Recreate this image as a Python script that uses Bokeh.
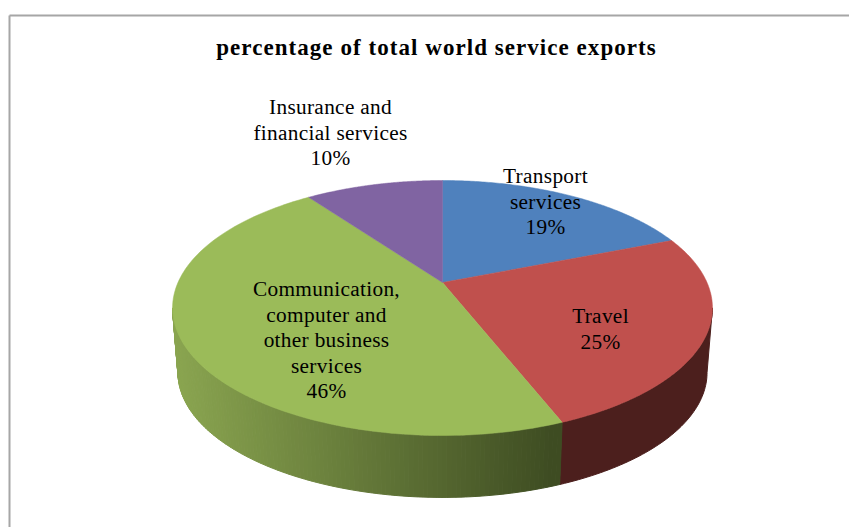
import numpy as np
from bokeh.core.properties import value
from bokeh.embed import file_html
from bokeh.layouts import column
from bokeh.models import InlineStyleSheet, Range1d
from bokeh.plotting import figure
from bokeh.resources import INLINE

# Share of world service exports, clockwise from twelve o'clock
categories = ["Transport services", "Travel",
              "Communication, computer and other business services",
              "Insurance and financial services"]
shares = [19, 25, 46, 10]
top_colors = ["#4f81bd", "#c0504d", "#9bbb59", "#8064a2"]
chart_title = "percentage of total world service exports"
SERIF = value("Liberation Serif")
FRAME = "#a6a6a6"
TITLE_H = 66
TITLE_TRACK = 1.05
LABEL_TRACK = 0.32

# Perspective projection of the pie disc onto the page
CX, CY, A, B, K = 442.0, 282.0, 264.5, 122.4, 0.2
WALL_DY, WALL_SCALE = 65.0, 0.98


def rim(theta_deg, scale=1.0, dy=0.0):
    t = np.radians(theta_deg)
    u, v = np.sin(t), np.cos(t)
    d = 1 + K * v
    return CX + scale * A * u / d, CY + dy - scale * B * v / d


def panel(height, top, bottom, spacing):
    fig = figure(width=849, height=height, output_backend="svg", toolbar_location=None,
                 x_range=Range1d(0, 849), y_range=Range1d(bottom, top),
                 min_border=0, outline_line_color=None,
                 background_fill_color=None, border_fill_color=None)
    fig.axis.visible = False
    fig.grid.visible = False
    fig.stylesheets = [InlineStyleSheet(css=":host { letter-spacing: %spx; }" % spacing)]
    return fig


# Tracking is added after the centred text is measured, so pull each string back by half of it
def tracked_x(x, text, track):
    return x - len(text) * track / 2


# Title layer, with its wider tracking
head = panel(TITLE_H, 0, TITLE_H, TITLE_TRACK)
head.text([tracked_x(436, chart_title, TITLE_TRACK)], [47], text=[chart_title], text_font=SERIF,
          text_font_size="23px", text_font_style="bold", text_align="center",
          text_baseline="middle", text_color="#000000")

# Chart layer covers the whole page and sits over the title layer
p = panel(527, 0, 527, LABEL_TRACK)
p.margin = (-TITLE_H, 0, 0, 0)
p.line([9, 9], [527, 15], line_color=FRAME, line_width=2)
p.line([9, 849], [15, 15], line_color=FRAME, line_width=2)

edges = np.concatenate([[0], np.cumsum(shares)]) * 3.6
FRONT_RIGHT, FRONT_LEFT = 101.5, 258.5


def wall_color(x):
    # Side wall shading runs from light on the left to dark on the right
    f = np.clip((x - 175) / (555 - 175), 0, 1)
    c0, c1 = np.array([138, 165, 80]), np.array([62, 76, 34])
    r, g, b = (c0 + (c1 - c0) * f).astype(int)
    return f"#{r:02x}{g:02x}{b:02x}"


# Dark wall below the travel slice
th = np.linspace(FRONT_RIGHT, edges[2], 60)
x1, y1 = rim(th)
x2, y2 = rim(th, WALL_SCALE, WALL_DY)
p.patch(np.r_[x1, x2[::-1]], np.r_[y1, y2[::-1]], fill_color="#4c1f1d", line_color="#4c1f1d", line_width=1)

# Shaded wall below the communication slice, drawn as narrow strips
th = np.linspace(edges[2], FRONT_LEFT, 121)
for a, b in zip(th[:-1], th[1:]):
    seg = np.array([a, b])
    x1, y1 = rim(seg)
    x2, y2 = rim(seg, WALL_SCALE, WALL_DY)
    col = wall_color(x1.mean())
    p.patch(np.r_[x1, x2[::-1]], np.r_[y1, y2[::-1]], fill_color=col, line_color=col, line_width=1)

# Top faces of the slices
for start, end, col in zip(edges[:-1], edges[1:], top_colors):
    th = np.linspace(start, end, 120)
    x, y = rim(th)
    p.patch(np.r_[CX, x], np.r_[CY, y], fill_color=col, line_color=col, line_width=0.5)

labels = [
    (545, ["Transport", "services", "19%"], 175.5),
    (600, ["Travel", "25%"], 315.5),
    (326, ["Communication,", "computer and", "other business", "services", "46%"], 288.5),
    (330, ["Insurance and", "financial services", "10%"], 106.5),
]
for lx, lines, ly in labels:
    xs = [tracked_x(lx, t, LABEL_TRACK) for t in lines]
    ys = [ly + 25.5 * i for i in range(len(lines))]
    p.text(xs, ys, text=lines, text_font=SERIF, text_font_size="21.3px",
           text_align="center", text_baseline="middle", text_color="#000000")

page = column(head, p, spacing=0)
open("out.html", "w").write(file_html(page, INLINE))
